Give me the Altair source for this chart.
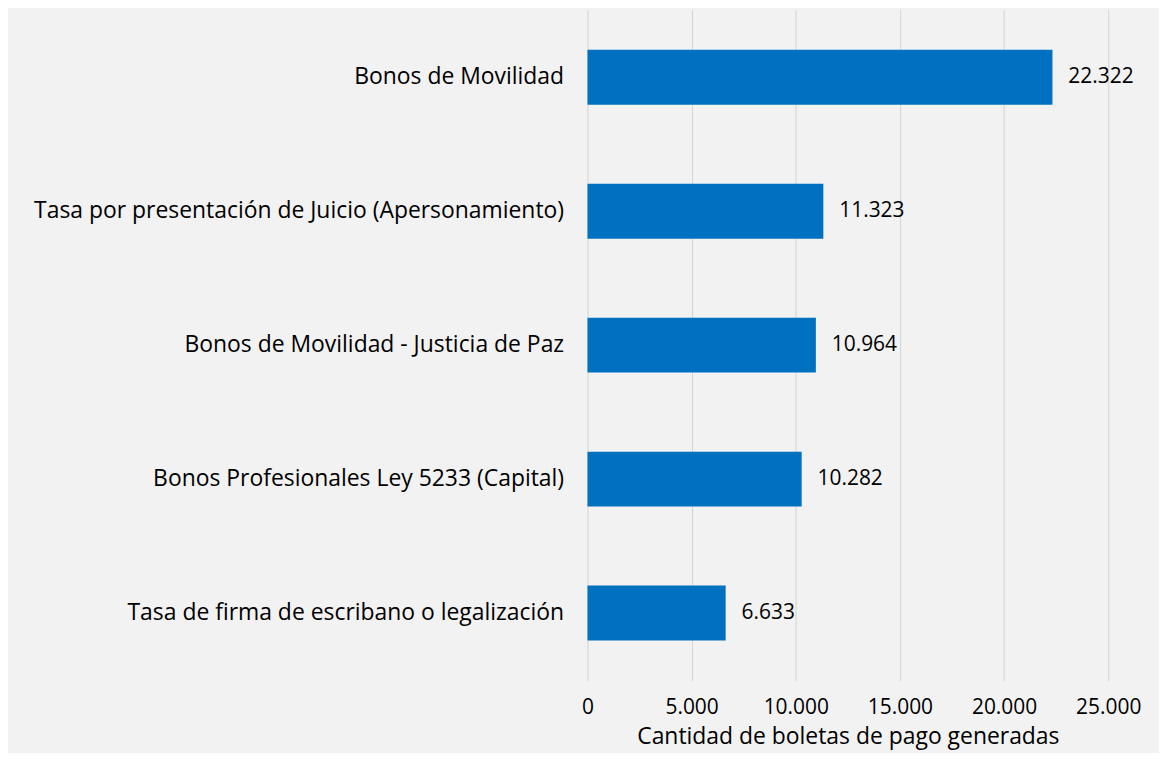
import altair as alt
import pandas as pd

categorias = [
    "Bonos de Movilidad",
    "Tasa por presentación de Juicio (Apersonamiento)",
    "Bonos de Movilidad - Justicia de Paz",
    "Bonos Profesionales Ley 5233 (Capital)",
    "Tasa de firma de escribano o legalización",
]
valores = [22322, 11323, 10964, 10282, 6633]

df = pd.DataFrame({"cat": categorias, "val": valores})
df["lbl"] = [f"{v:,}".replace(",", ".") for v in valores]

FONT = "Open Sans"

base = alt.Chart(df).encode(
    y=alt.Y("cat:N", sort=categorias, title=None,
            scale=alt.Scale(paddingInner=0.59, paddingOuter=0.3),
            axis=alt.Axis(ticks=False, domain=False, labelPadding=24,
                          labelFontSize=23, labelFont=FONT, labelColor="#000000",
                          labelLimit=800)),
)

bars = base.mark_bar(color="#0070C0").encode(
    x=alt.X("val:Q", title="Cantidad de boletas de pago generadas",
            scale=alt.Scale(domain=[0, 25000], nice=False),
            axis=alt.Axis(values=[0, 5000, 10000, 15000, 20000, 25000],
                          labelExpr="replace(format(datum.value, ','), ',', '.')",
                          labelFlush=False, labelOverlap=False,
                          ticks=False, domain=False, grid=True, gridColor="#d4d4d4",
                          labelPadding=16, labelFontSize=21, labelFont=FONT,
                          labelColor="#000000", titleFontSize=23, titleFont=FONT,
                          titleFontWeight="normal", titleColor="#000000", titlePadding=8)),
)

labels = base.mark_text(align="left", baseline="middle", dx=16, fontSize=21,
                        font=FONT, color="#000000").encode(
    x="val:Q", text="lbl:N")

chart = (bars + labels).properties(
    width=523, height=674, background="#f2f2f2",
    padding={"left": 25, "top": 0, "right": 18, "bottom": 3},
).configure_view(stroke=None)

chart.save("out.html", embed_options={"renderer": "svg", "actions": False})
